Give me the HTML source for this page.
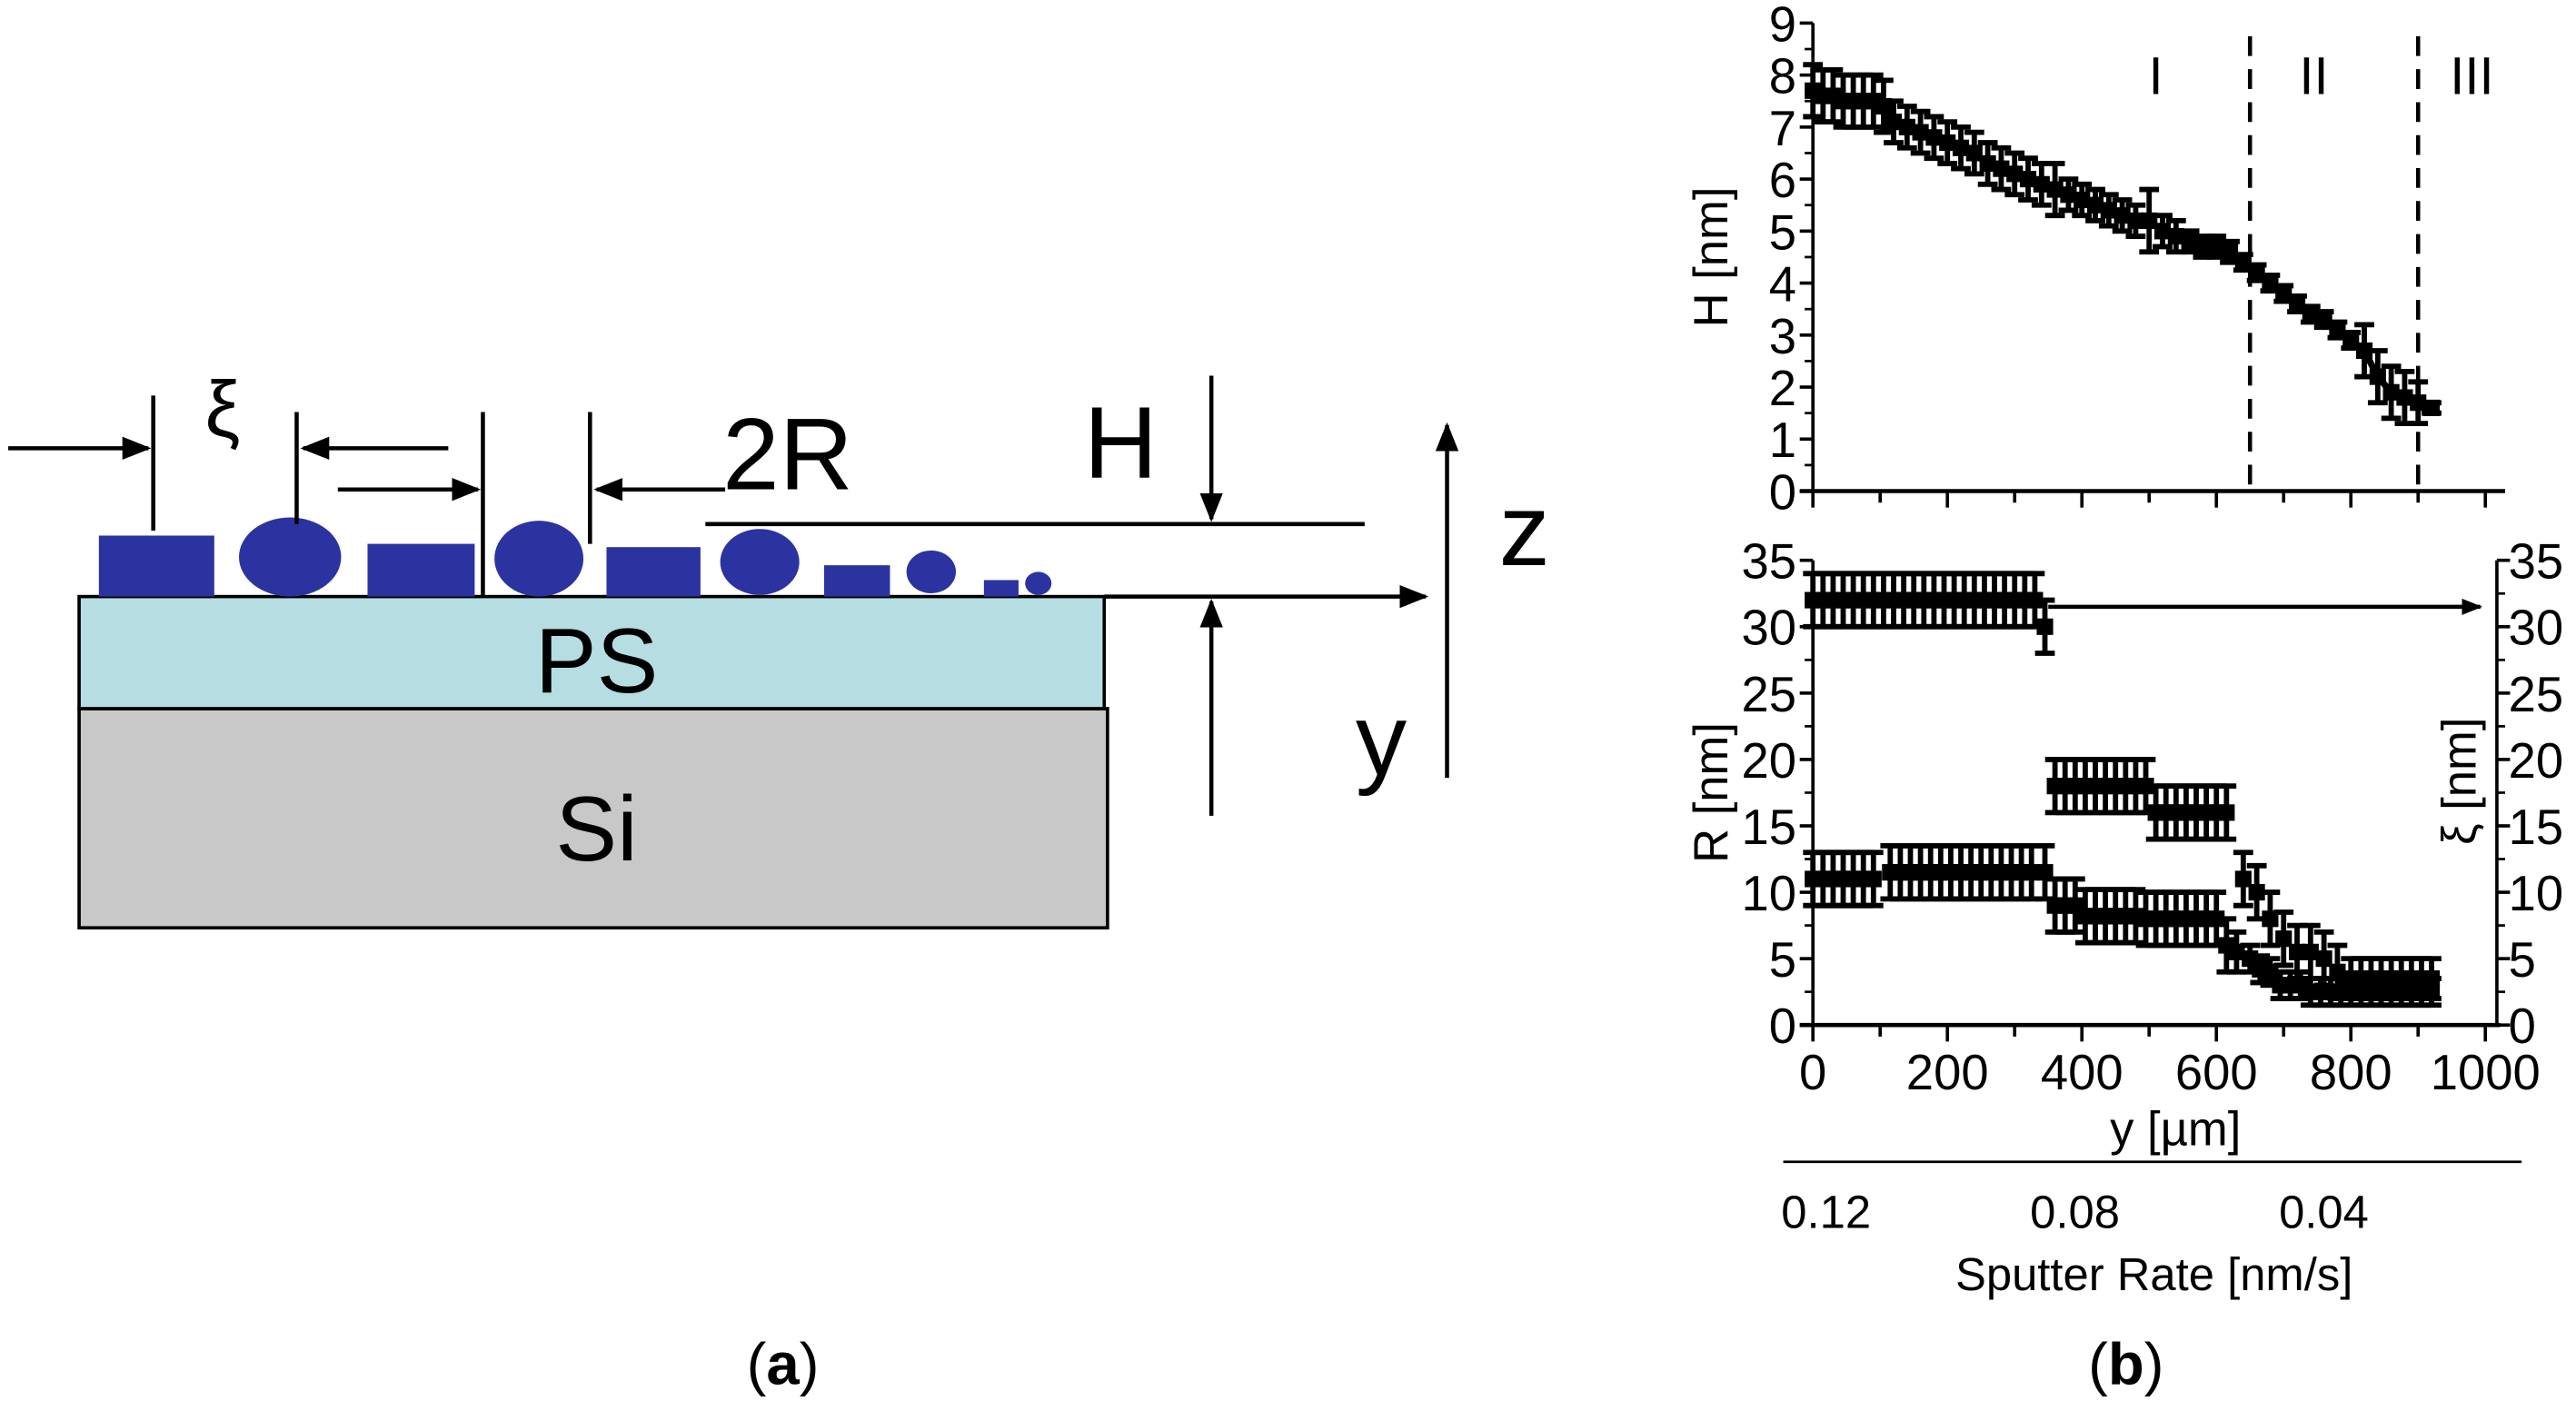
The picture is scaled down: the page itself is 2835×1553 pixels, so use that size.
<!DOCTYPE html>
<html><head><meta charset="utf-8"><style>
html,body{margin:0;padding:0;background:#fff;}
svg{display:block;}
text{font-family:"Liberation Sans",sans-serif;}
</style></head><body>
<svg id="fig" width="2835" height="1553" viewBox="0 0 1563 856.2" preserveAspectRatio="none" xmlns="http://www.w3.org/2000/svg">
<defs>
<marker id="ah" viewBox="0 0 10 10" refX="9" refY="5" markerWidth="7" markerHeight="7" orient="auto-start-reverse"><path d="M0,1 L10,5 L0,9 z" fill="#000"/></marker>
<marker id="ah2" viewBox="0 0 10 10" refX="9" refY="5" markerWidth="5" markerHeight="5" orient="auto"><path d="M0,1 L10,5 L0,9 z" fill="#000"/></marker>
</defs>
<g>
  <rect x="48" y="430" width="624" height="133" fill="#c8c8c8" stroke="#000" stroke-width="2"/>
  <rect x="48" y="362" width="622" height="68" fill="#b5dde2" stroke="#000" stroke-width="2"/>
  <text x="362" y="420" font-size="56" text-anchor="middle">PS</text>
  <text x="362" y="522" font-size="56" text-anchor="middle">Si</text>
  <g fill="#2b33a0">
    <rect x="60" y="325" width="70" height="37"/>
    <ellipse cx="176" cy="338" rx="31" ry="24"/>
    <rect x="223" y="330" width="65" height="32"/>
    <ellipse cx="327" cy="339" rx="27" ry="23"/>
    <rect x="368" y="332" width="57" height="30"/>
    <ellipse cx="461" cy="341" rx="24" ry="20"/>
    <rect x="500" y="343" width="40" height="19"/>
    <ellipse cx="565" cy="347" rx="15" ry="13"/>
    <rect x="597" y="352" width="21" height="10"/>
    <ellipse cx="630" cy="354" rx="8" ry="7"/>
  </g>
  <g stroke="#000" stroke-width="2.5" fill="none">
    <line x1="670" y1="362" x2="865" y2="362" marker-end="url(#ah)"/>
    <line x1="878" y1="472" x2="878" y2="258" marker-end="url(#ah)"/>
    <line x1="735" y1="228" x2="735" y2="315" marker-end="url(#ah)"/>
    <line x1="428" y1="318" x2="828" y2="318"/>
    <line x1="735" y1="495" x2="735" y2="365" marker-end="url(#ah)"/>
    <line x1="5" y1="272" x2="90" y2="272" marker-end="url(#ah)"/>
    <line x1="93" y1="240" x2="93" y2="322"/>
    <line x1="180" y1="250" x2="180" y2="318"/>
    <line x1="272" y1="272" x2="184" y2="272" marker-end="url(#ah)"/>
    <line x1="205" y1="297" x2="290" y2="297" marker-end="url(#ah)"/>
    <line x1="293" y1="250" x2="293" y2="362"/>
    <line x1="358" y1="250" x2="358" y2="330"/>
    <line x1="440" y1="297" x2="362" y2="297" marker-end="url(#ah)"/>
  </g>
  <text x="135" y="265" font-size="48" text-anchor="middle" font-family="DejaVu Serif, serif">ξ</text>
  <text x="478" y="297" font-size="62" text-anchor="middle">2R</text>
  <text x="680" y="290" font-size="62" text-anchor="middle">H</text>
  <text x="925" y="343" font-size="62" text-anchor="middle">z</text>
  <text x="838" y="470" font-size="62" text-anchor="middle">y</text>
</g>
<text x="475" y="840" font-size="36" text-anchor="middle" font-family="Liberation Serif, serif">(<tspan font-weight="bold">a</tspan>)</text>
<text x="1290" y="840" font-size="36" text-anchor="middle" font-family="Liberation Serif, serif">(<tspan font-weight="bold">b</tspan>)</text>
<g id="chart"></g>
</svg>
<script>
const hX=[0,15,30,45,60,75,90,105,120,140,160,180,200,220,240,260,280,300,320,340,360,380,400,420,440,460,480,500,520,540,560,580,600,620,640,660,680,700,720,740,760,780,800,820,840,860,880,900,920];
const hVal=[7.7,7.6,7.6,7.5,7.5,7.5,7.5,7.4,7.1,7.0,6.9,6.8,6.7,6.6,6.5,6.3,6.2,6.1,6.0,5.9,5.8,5.7,5.6,5.5,5.4,5.3,5.2,5.2,5.0,4.9,4.8,4.7,4.7,4.6,4.4,4.2,4.0,3.8,3.6,3.4,3.3,3.1,2.9,2.7,2.2,1.9,1.8,1.7,1.6];
const hErr=[0.5,0.5,0.5,0.5,0.5,0.5,0.5,0.5,0.4,0.4,0.4,0.4,0.4,0.4,0.4,0.4,0.4,0.4,0.4,0.4,0.5,0.3,0.3,0.3,0.3,0.3,0.3,0.6,0.3,0.3,0.2,0.2,0.2,0.2,0.15,0.15,0.15,0.15,0.15,0.15,0.15,0.15,0.15,0.5,0.5,0.5,0.5,0.4,0.1];
const rX=[0,15,30,45,60,75,90,115,130,145,160,175,190,205,220,235,250,265,280,295,310,325,345,360,375,390,405,420,435,450,465,480,495,510,525,540,555,570,585,600,615,630,650,665,680,695,710,725,740,755,770,785,800,815,830,845,860,875,890,905,920];
const rVal=[11,11,11,11,11,11,11,11.5,11.5,11.5,11.5,11.5,11.5,11.5,11.5,11.5,11.5,11.5,11.5,11.5,11.5,11.5,11.5,9,9,9,8.2,8.2,8.2,8.2,8.2,8.2,8,8,8,8,8,8,8,8,6,5.5,5,4.2,4,3,3,3,2.5,2.5,2.5,2.5,2.5,2.5,2.5,2.5,2.5,2.5,2.5,2.5,2.5];
const rErr=[2,2,2,2,2,2,2,2,2,2,2,2,2,2,2,2,2,2,2,2,2,2,2,2,2,2,2,2,2,2,2,2,2,2,2,2,2,2,2,2,2,1.5,1,1,1,1,1,1,1,1,1,1,1,1,1,1,1,1,1,1,1];
const xiX=[0,15,30,45,60,75,90,105,120,135,150,165,180,195,210,225,240,255,270,285,300,315,330,345,360,375,390,405,420,435,450,465,480,495,510,525,540,555,570,585,600,615,640,660,680,700,720,740,760,780,800,815,830,845,860,875,890,905,920];
const xiVal=[32,32,32,32,32,32,32,32,32,32,32,32,32,32,32,32,32,32,32,32,32,32,32,30,18,18,18,18,18,18,18,18,18,18,16,16,16,16,16,16,16,16,11,10,8,6.5,5.5,5.5,5,4,3.5,3.5,3.5,3.5,3.5,3.5,3.5,3.5,3.5];
const xiErr=[2,2,2,2,2,2,2,2,2,2,2,2,2,2,2,2,2,2,2,2,2,2,2,2,2,2,2,2,2,2,2,2,2,2,2,2,2,2,2,2,2,2,2,2,2,2,2,2,2,2,1.5,1.5,1.5,1.5,1.5,1.5,1.5,1.5,1.5];
const hTicks=[0,1,2,3,4,5,6,7,8,9];
const rTicks=[0,5,10,15,20,25,30,35];
const xTicks=[0,200,400,600,800,1000];
const xTickLabels=["0","200","400","600","800","1000"];
const rateTicks=[0.12,0.08,0.04];
const rateLabels=["0.12","0.08","0.04"];
const regionBounds=[650,900];
const regionLabels=["I","II","III"];
const regionLabelX=[510,745,980];

const NS="http://www.w3.org/2000/svg";
const g=document.getElementById('chart');
const X0=1100,X1=1508;
const sx=v=>X0+(X1-X0)*v/1000;
const T0=14,T1=298;  const sh=v=>T1-(T1-T0)*v/9;
const B0=340,B1=622; const sr=v=>B1-(B1-B0)*v/35;
const rate=v=>1108+(1410-1108)*(0.12-v)/0.08;
function el(tag,attrs,parent){const e=document.createElementNS(NS,tag);for(const k in attrs)e.setAttribute(k,attrs[k]);(parent||g).appendChild(e);return e;}
function line(x1,y1,x2,y2,w,extra){return el('line',Object.assign({x1,y1,x2,y2,stroke:'#000','stroke-width':w||2},extra||{}));}
function txt(x,y,s,size,anchor,extra){const t=el('text',Object.assign({x,y,'font-size':size,'text-anchor':anchor||'middle'},extra||{}));t.textContent=s;return t;}

let e;
e=line(X0,T0,X0,T1,2);


e=line(X0-8,T1,1520,T1,2.5);


hTicks.forEach(v=>{
  line(X0-8,sh(v),X0,sh(v),2);
  if(v<9)line(X0-5,sh(v+0.5),X0,sh(v+0.5),1.5);
  e=txt(X0-10,sh(v)+11,String(v),30,'end');
  
  
});
for(let v=0;v<=1000;v+=100){line(sx(v),T1,sx(v),T1+(v%200===0?10:7),2);}
e=txt(1048,156,'H [nm]',29,'middle',{transform:'rotate(-90 1048 156)'});


regionBounds.forEach(v=>{
  e=line(sx(v),22,sx(v),300,2.5,{'stroke-dasharray':'12,8'});
  
  
});
regionLabels.forEach((s,i)=>{
  e=txt(sx(regionLabelX[i]),57,s,32,'middle',{'font-family':'Liberation Serif, serif'});
  
  
});
function series(xs,vs,es,sy,name,cap,withLine){
  xs.forEach((x,i)=>{
    const cx=sx(x),y=sy(vs[i]),yt=sy(vs[i]+es[i]),yb=sy(vs[i]-es[i]);
    const p=el('path',{d:`M${cx},${yt}V${yb}M${cx-cap},${yt}H${cx+cap}M${cx-cap},${yb}H${cx+cap}`,stroke:'#000','stroke-width':3.2,fill:'none'});
    
    
    const m=el('rect',{x:cx-5,y:y-5,width:10,height:10,fill:'#000'});
    
    
  });
  if(withLine){
    const d=xs.map((x,i)=>(i?'L':'M')+sx(x)+','+sy(vs[i])).join('');
    const l=el('path',{d,stroke:'#000','stroke-width':4,fill:'none'});
    
    
  }
}
series(hX,hVal,hErr,sh,'h-series',6,true);

e=line(X0,B0,X0,B1,2);


e=line(1515,B0,1515,B1,2);


e=line(X0-8,B1,1517,B1,2.5);


rTicks.forEach(v=>{
  line(X0-8,sr(v),X0,sr(v),2);line(1515,sr(v),1523,sr(v),2);
  if(v<35){line(X0-5,sr(v+2.5),X0,sr(v+2.5),1.5);line(1515,sr(v+2.5),1520,sr(v+2.5),1.5);}
  e=txt(X0-10,sr(v)+11,String(v),30,'end');
  
  
  e=txt(1522,sr(v)+11,String(v),30,'start');
  
  
});
for(let v=0;v<=1000;v+=100){line(sx(v),B1,sx(v),B1+(v%200===0?10:7),2);}
xTicks.forEach((v,i)=>{
  e=txt(sx(v),661,xTickLabels[i],30,'middle');
  
  
});
e=txt(1320,695,'y [µm]',29,'middle');


e=txt(1048,481,'R [nm]',29,'middle',{transform:'rotate(-90 1048 481)'});


e=txt(1502,474,'ξ [nm]',29,'middle',{transform:'rotate(-90 1502 474)'});


series(xiX,xiVal,xiErr,sr,'xi-series',6,false);
series(rX,rVal,rErr,sr,'r-series',6,false);
e=line(sx(350),sr(31.5),1505,sr(31.5),2.5,{'marker-end':'url(#ah2)'});



e=line(1082,705,1530,705,1.5);


rateTicks.forEach((v,i)=>{
  e=txt(rate(v),745,rateLabels[i],28,'middle');
  
  
});
e=txt(1307,783,'Sputter Rate [nm/s]',28,'middle');


</script>
</body></html>
